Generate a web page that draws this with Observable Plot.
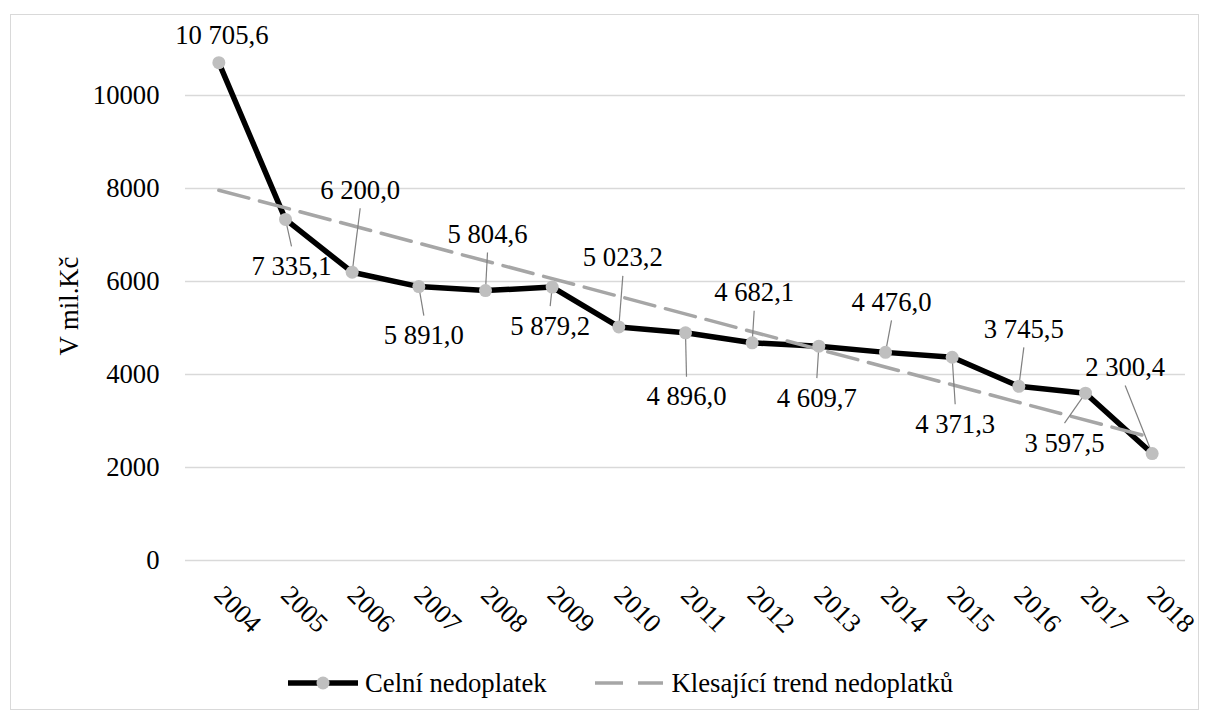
<!DOCTYPE html>
<html>
<head>
<meta charset="utf-8">
<script src="https://cdn.jsdelivr.net/npm/d3@7"></script>
<script src="https://cdn.jsdelivr.net/npm/@observablehq/plot@0.6"></script>
<style>
  body { margin: 0; background: #fff; font-family: "Times New Roman", Times, "Liberation Serif", Tinos, "DejaVu Serif", serif; }
  #chart { position: absolute; left: 0; top: 0; }
  #chart svg, #chart svg text { font-family: "Times New Roman", Times, "Liberation Serif", Tinos, "DejaVu Serif", serif !important; }
  #frame { position: absolute; left: 10px; top: 14px; width: 1189px; height: 696px; border: 1px solid #d9d9d9; box-sizing: border-box; pointer-events: none; }
  #legend { position: absolute; left: 288px; top: 668px; height: 30px; display: flex; align-items: center; font-size: 26.7px; color: #000; white-space: nowrap; }
  #legend svg { display: block; }
</style>
</head>
<body>
<div id="chart"></div>
<div id="frame"></div>
<div id="legend"></div>
<script>
// ---- data ----
const years = [2004, 2005, 2006, 2007, 2008, 2009, 2010, 2011, 2012, 2013, 2014, 2015, 2016, 2017, 2018];
const values = [10705.6, 7335.1, 6200.0, 5891.0, 5804.6, 5879.2, 5023.2, 4896.0, 4682.1, 4609.7, 4476.0, 4371.3, 3745.5, 3597.5, 2300.4];
const yTicks = [0, 2000, 4000, 6000, 8000, 10000];
const seriesName = "Celní nedoplatek";
const trendName = "Klesající trend nedoplatků";
const yTitle = "V mil.Kč";

// ---- label placement (pixel offsets of each data label from its point) ----
const labelDx = [3, 6, 8, 5, 2, -2, 4, 1, 2, -2, 6, 3, 5, -21, -27];
const labelDy = [-27, 47, -82, 49, -56, 39, -69, 64, -50, 52, -50, 67, -57, 50, -86];

// ---- layout ----
const W = 1209, H = 650;
const mL = 185, mR = 24, mT = 95, mB = 90;
const fontSize = "26.7px";
const font = "'Times New Roman', Times, 'Liberation Serif', Tinos, 'DejaVu Serif', serif";

const fmt = d3.formatLocale({decimal: ",", thousands: " ", grouping: [3], currency: ["", ""]}).format(",.1f");
const xDomain = [years[0] - 0.5, years[years.length - 1] + 0.5];
const yDomain = [0, 10000];

const xs = Plot.scale({x: {type: "linear", domain: xDomain, range: [mL, W - mR]}});
const ys = Plot.scale({y: {type: "linear", domain: yDomain, range: [H - mB, mT]}});

const rows = years.map((year, i) => {
  const px = xs.apply(year), py = ys.apply(values[i]);
  const lxp = px + labelDx[i], lyp = py + labelDy[i];
  const eyp = lyp + (labelDy[i] > 0 ? -20 : 18);
  return {
    year, value: values[i], label: fmt(values[i]),
    lx: xs.invert(lxp), ly: ys.invert(lyp),
    ex: xs.invert(lxp), ey: ys.invert(eyp),
    leader: i > 0
  };
});

const plot = Plot.plot({
  width: W, height: H,
  marginLeft: mL, marginRight: mR, marginTop: mT, marginBottom: mB,
  style: {fontFamily: font, fontSize: fontSize, background: "transparent", color: "#000", overflow: "visible"},
  x: {type: "linear", domain: xDomain},
  y: {type: "linear", domain: yDomain},
  marks: [
    Plot.gridY(yTicks, {stroke: "#d9d9d9", strokeOpacity: 1, strokeWidth: 1.5}),
    Plot.axisY({ticks: yTicks, tickSize: 0, tickPadding: 26, tickFormat: d3.format("d"), label: null}),
    Plot.axisX({ticks: years, tickSize: 0, tickPadding: 30, tickRotate: 45, tickFormat: d => String(d), label: null}),
    Plot.text([yTitle], {frameAnchor: "left", rotate: -90, dx: -108, dy: -22, textAnchor: "middle", lineAnchor: "bottom", fill: "#000"}),
    Plot.line(rows, {x: "year", y: "value", stroke: "#000", strokeWidth: 5.5, strokeLinejoin: "round"}),
    Plot.linearRegressionY(rows, {x: "year", y: "value", ci: 0, stroke: "#a6a6a6", strokeWidth: 3.5, strokeDasharray: "31,11"}),
    Plot.link(rows.filter(d => d.leader), {x1: "year", y1: "value", x2: "ex", y2: "ey", stroke: "#808080", strokeWidth: 1.2}),
    Plot.dot(rows, {x: "year", y: "value", r: 6.5, fill: "#bfbfbf", stroke: "none"}),
    Plot.text(rows, {x: "lx", y: "ly", text: "label", fill: "#000", textAnchor: "middle"})
  ]
});
document.getElementById("chart").appendChild(plot);

// ---- legend ----
const legend = document.getElementById("legend");
legend.innerHTML = `
  <svg width="70" height="20"><line x1="0" y1="10" x2="70" y2="10" stroke="#000" stroke-width="5.5"/><circle cx="35" cy="10" r="6.5" fill="#bfbfbf"/></svg>
  <span style="margin-left:7px">${seriesName}</span>
  <svg width="68" height="20" style="margin-left:48px"><line x1="0" y1="10" x2="68" y2="10" stroke="#a6a6a6" stroke-width="3.5" stroke-dasharray="28,15"/></svg>
  <span style="margin-left:9px">${trendName}</span>`;
</script>
</body>
</html>
